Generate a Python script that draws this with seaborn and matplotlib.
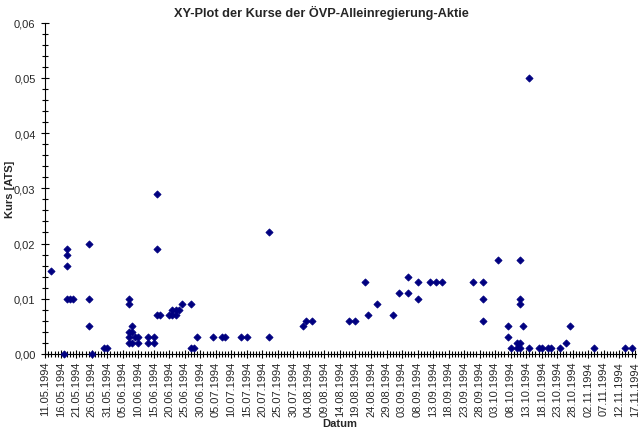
import pandas as pd
import matplotlib
matplotlib.use("Agg")
import matplotlib.pyplot as plt
from matplotlib.ticker import FuncFormatter, MultipleLocator
import seaborn as sns

# Kurse der OEVP-Alleinregierung-Aktie
datum = [
    "13.05.1994", "17.05.1994",
    "18.05.1994", "18.05.1994", "18.05.1994", "18.05.1994",
    "19.05.1994", "20.05.1994",
    "25.05.1994", "25.05.1994", "25.05.1994", "26.05.1994",
    "30.05.1994", "31.05.1994",
    "07.06.1994", "07.06.1994", "07.06.1994", "07.06.1994", "07.06.1994",
    "08.06.1994", "08.06.1994", "08.06.1994",
    "09.06.1994", "10.06.1994", "10.06.1994",
    "13.06.1994", "13.06.1994", "15.06.1994", "15.06.1994",
    "16.06.1994", "16.06.1994", "16.06.1994", "17.06.1994",
    "20.06.1994", "21.06.1994", "21.06.1994", "22.06.1994", "22.06.1994",
    "23.06.1994", "24.06.1994", "27.06.1994", "27.06.1994",
    "28.06.1994", "29.06.1994",
    "04.07.1994", "07.07.1994", "08.07.1994", "13.07.1994", "15.07.1994",
    "22.07.1994", "22.07.1994",
    "02.08.1994", "03.08.1994", "05.08.1994", "17.08.1994", "19.08.1994",
    "22.08.1994", "23.08.1994", "26.08.1994", "31.08.1994",
    "02.09.1994", "05.09.1994", "05.09.1994", "08.09.1994", "08.09.1994",
    "12.09.1994", "14.09.1994", "16.09.1994", "26.09.1994",
    "29.09.1994", "29.09.1994", "29.09.1994",
    "04.10.1994", "07.10.1994", "07.10.1994", "08.10.1994",
    "10.10.1994", "10.10.1994",
    "11.10.1994", "11.10.1994", "11.10.1994", "11.10.1994", "11.10.1994",
    "12.10.1994", "14.10.1994", "14.10.1994",
    "17.10.1994", "18.10.1994", "20.10.1994", "21.10.1994", "24.10.1994",
    "26.10.1994", "27.10.1994",
    "04.11.1994", "14.11.1994", "16.11.1994",
]
kurs = [
    0.015, 0.000,
    0.019, 0.018, 0.016, 0.010,
    0.010, 0.010,
    0.020, 0.010, 0.005, 0.000,
    0.001, 0.001,
    0.010, 0.009, 0.004, 0.003, 0.002,
    0.005, 0.004, 0.002,
    0.003, 0.003, 0.002,
    0.003, 0.002, 0.003, 0.002,
    0.029, 0.019, 0.007, 0.007,
    0.007, 0.007, 0.008, 0.007, 0.008,
    0.008, 0.009, 0.009, 0.001,
    0.001, 0.003,
    0.003, 0.003, 0.003, 0.003, 0.003,
    0.022, 0.003,
    0.005, 0.006, 0.006, 0.006, 0.006,
    0.013, 0.007, 0.009, 0.007,
    0.011, 0.014, 0.011, 0.013, 0.010,
    0.013, 0.013, 0.013, 0.013,
    0.013, 0.010, 0.006,
    0.017, 0.005, 0.003, 0.001,
    0.002, 0.001,
    0.017, 0.010, 0.009, 0.002, 0.001,
    0.005, 0.050, 0.001,
    0.001, 0.001, 0.001, 0.001, 0.001,
    0.002, 0.005,
    0.001, 0.001, 0.001,
]

x_start = "11.05.1994"
x_end = "17.11.1994"
y_max = 0.06

df = pd.DataFrame({"Datum": pd.to_datetime(datum, format="%d.%m.%Y"), "Kurs": kurs})
t0 = pd.to_datetime(x_start, format="%d.%m.%Y")
t1 = pd.to_datetime(x_end, format="%d.%m.%Y")

sns.set_style("white")
plt.rcParams["font.family"] = ["Liberation Sans", "DejaVu Sans"]

fig = plt.figure(figsize=(6.43, 4.31), dpi=100)
ax = fig.add_axes([45.25 / 643, 76 / 431, 591 / 643, 331.5 / 431])

sns.scatterplot(data=df, x="Datum", y="Kurs", marker="D", color="#000080",
                s=13, edgecolor="#000080", linewidth=0.6, ax=ax, zorder=3,
                clip_on=False)

ax.set_xlim(t0, t1 + pd.Timedelta(hours=12))
ax.set_ylim(0, y_max)

major = pd.date_range(t0, t1, freq="5D")
ax.set_xticks(major)
ax.set_xticklabels([d.strftime("%d.%m.%Y") for d in major], rotation=90, fontsize=8)
ax.set_xticks(pd.date_range(t0, t1, freq="D"), minor=True)

ax.yaxis.set_major_locator(MultipleLocator(0.01))
ax.yaxis.set_minor_locator(MultipleLocator(0.002))
ax.yaxis.set_major_formatter(FuncFormatter(lambda v, p: f"{v:.2f}".replace(".", ",")))

ax.tick_params(axis="both", which="both", direction="inout", color="black",
               width=0.8, bottom=True, left=True)
ax.tick_params(axis="x", which="major", length=6, pad=2)
ax.tick_params(axis="x", which="minor", length=4)
ax.tick_params(axis="y", which="major", length=6, pad=4, labelsize=8)
ax.tick_params(axis="y", which="minor", length=5)

for side in ["top", "right"]:
    ax.spines[side].set_visible(False)
for side in ["left", "bottom"]:
    ax.spines[side].set_color("black")
    ax.spines[side].set_linewidth(0.8)

ax.set_xlabel("")
ax.set_ylabel("")
fig.text(321.5 / 643, 1 - 13 / 431, "XY-Plot der Kurse der ÖVP-Alleinregierung-Aktie",
         ha="center", va="center", fontsize=9.2, fontweight="bold")
fig.text(10 / 643, 1 - 189 / 431, "Kurs [ATS]", rotation=90,
         ha="center", va="center", fontsize=8, fontweight="bold")
fig.text(340 / 643, 1 - 424 / 431, "Datum",
         ha="center", va="center", fontsize=8, fontweight="bold")

fig.savefig("out.png", dpi=100, facecolor="white")
